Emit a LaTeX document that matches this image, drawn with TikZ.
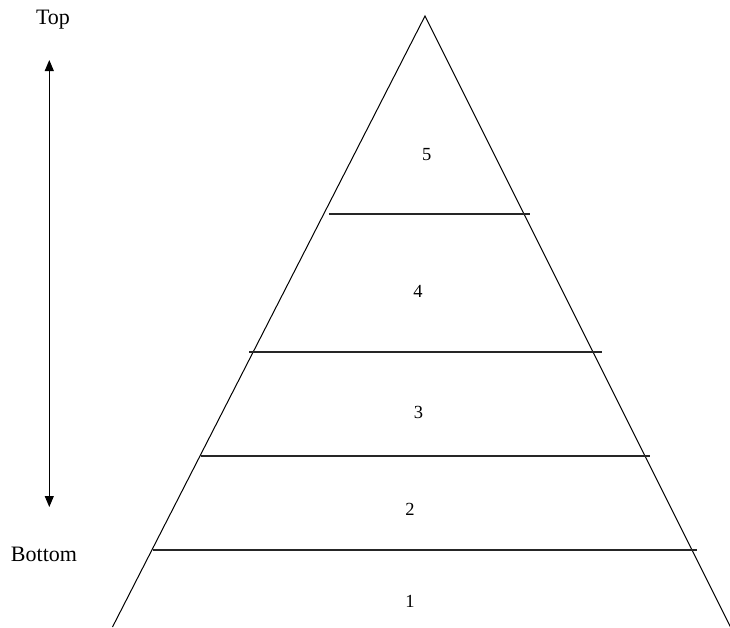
\documentclass[tikz,border=0pt]{standalone}
\usepackage{fontspec}
\setmainfont{Liberation Serif}
\usetikzlibrary{arrows.meta}
\begin{document}
\begin{tikzpicture}[x=1pt,y=-1pt,
  edge/.style={line width=1pt,black},
  layer/.style={line width=1.1pt,black!85},
  num/.style={inner sep=0pt,font=\fontsize{18.5}{20}\selectfont},
  lab/.style={inner sep=0pt,font=\fontsize{22}{24}\selectfont},
  axis/.style={line width=1pt,{Triangle[width=9pt,length=11pt]}-{Triangle[width=9pt,length=11pt]}}]
\useasboundingbox (0,0) rectangle (730,627);
% pyramid outline
\coordinate (apex) at (425,16);
\coordinate (bl) at (112.5,627);
\coordinate (br) at (730.5,627);
\draw[edge] (bl) -- (apex) -- (br);
% layer dividers
\coordinate (l4a) at (329,214);   \coordinate (l4b) at (530,214);
\coordinate (l3a) at (249,352);   \coordinate (l3b) at (602,352);
\coordinate (l2a) at (201,456);   \coordinate (l2b) at (650,456);
\coordinate (l1a) at (153,550);   \coordinate (l1b) at (697,550);
\draw[layer] (l4a) -- (l4b);
\draw[layer] (l3a) -- (l3b);
\draw[layer] (l2a) -- (l2b);
\draw[layer] (l1a) -- (l1b);
% layer numbers
\node[num] (n5) at (426.7,155) {5};
\node[num] (n4) at (418,291.5) {4};
\node[num] (n3) at (418.5,412) {3};
\node[num] (n2) at (410,509) {2};
\node[num] (n1) at (410,601) {1};
% axis
\node[lab] (top) at (53,20) {Top};
\node[lab] (bottom) at (44,554) {Bottom};
\coordinate (atop) at (49.3,60);
\coordinate (abot) at (49.3,507);
\draw[axis] (abot) -- (atop);
\end{tikzpicture}
\end{document}
